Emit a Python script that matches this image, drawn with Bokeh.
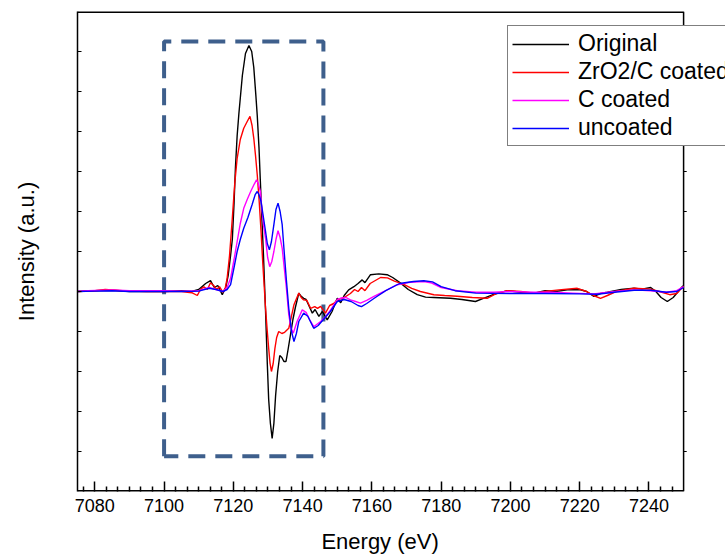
from bokeh.plotting import figure
from bokeh.models import Range1d, FixedTicker, Legend, LegendItem, CustomJSTickFormatter
from bokeh.embed import file_html
from bokeh.resources import INLINE

# ---- data ----
energy_original = [7075, 7080, 7085, 7090, 7095, 7100, 7105, 7108, 7110, 7112, 7113.4, 7114.5, 7115.5, 7116.8,
                   7117.8, 7118.5, 7119.2, 7119.7, 7120.2, 7120.6, 7121.1, 7121.6, 7122.6, 7123.5, 7124.5, 7125.3,
                   7125.9, 7126.5, 7126.9, 7127.4, 7127.8, 7128.3, 7128.7, 7129.3, 7129.8, 7130.2, 7130.7, 7131.2,
                   7131.7, 7132.2, 7132.8, 7133.4, 7134.0, 7134.6, 7135.2, 7135.8, 7136.5, 7137.2, 7137.9, 7138.9,
                   7139.6, 7140.3, 7141.0, 7141.8, 7142.8, 7143.6, 7144.7, 7145.7, 7147.1, 7148.5, 7150, 7151, 7152,
                   7153.3, 7154.8, 7156, 7157.2, 7158, 7159.6, 7162, 7164.4, 7166, 7168.3, 7170.5, 7173.1, 7175.5,
                   7177.9, 7182.7, 7186, 7189.9, 7192, 7195, 7199.1, 7203, 7206.8, 7210, 7213, 7216.4, 7220, 7222,
                   7224.1, 7226, 7228, 7232, 7235.7, 7238, 7240.5, 7242, 7243.5, 7245.3, 7247, 7249.6, 7250]
intensity_original = [0, 0.02, 0.03, 0.0, 0.0, 0.0, 0.02, 0.0, 0.05, 0.2, 0.27, 0.1, 0.15, -0.08,
                      0.1, 0.4, 0.9, 1.3, 2.2, 3.1, 3.9, 4.45, 5.4, 5.95, 6.15, 6.0,
                      5.6, 4.9, 4.4, 3.6, 2.75, 1.7, 0.9, -0.5, -1.8, -2.7, -3.3, -3.67,
                      -3.3, -2.6, -2.0, -1.6, -1.65, -1.75, -1.75, -1.45, -1.08, -0.7, -0.4, -0.04,
                      -0.12, -0.17, -0.2, -0.35, -0.54, -0.45, -0.62, -0.5, -0.71, -0.5, -0.17, -0.28, -0.1,
                      0.04, 0.12, 0.2, 0.29, 0.22, 0.42, 0.44, 0.42, 0.35, 0.21, 0.05, -0.08, -0.14,
                      -0.15, -0.17, -0.2, -0.25, -0.18, -0.08, 0.02, -0.02, -0.04, 0.02, 0.0, 0.04, 0.05, 0.0,
                      -0.12, -0.05, -0.02, 0.05, 0.08, 0.06, 0.1, 0.0, -0.15, -0.25, -0.15, 0.12, 0.15]

energy_zro2 = [7075, 7080, 7083, 7088, 7095, 7100, 7105, 7108, 7109.6, 7110.5, 7111.5, 7112.5, 7113.4, 7114.3,
               7115.2, 7116, 7117, 7117.7, 7118.2, 7118.9, 7119.7, 7120.4, 7121.1, 7122, 7123, 7124, 7124.8,
               7125.4, 7125.9, 7126.4, 7126.9, 7127.5, 7128, 7128.5, 7129, 7129.3, 7129.8, 7130.2, 7130.6, 7131,
               7131.5, 7132, 7132.5, 7133.1, 7134, 7134.8, 7136, 7136.7, 7137.5, 7138.9, 7139.6, 7140.3, 7141.2,
               7142.3, 7143.5, 7144.3, 7145.2, 7146.6, 7147.8, 7149, 7150, 7152, 7153.8, 7155, 7156, 7157, 7158,
               7159.5, 7160.5, 7162.5, 7164.5, 7166.5, 7169.2, 7171.5, 7174, 7177.9, 7181, 7184.6, 7189, 7193.3,
               7196, 7199.1, 7203, 7206.8, 7210, 7214, 7219.3, 7222, 7224, 7226, 7228, 7230.5, 7235.7, 7240.5,
               7243, 7246, 7248, 7249.6, 7250]
intensity_zro2 = [0, 0.02, 0.05, 0.02, 0.0, 0.0, 0.0, -0.03, -0.1, 0.05, 0.12, 0.05, 0.22, 0.15,
                  0.05, 0.12, -0.02, 0.1, 0.33, 0.9, 1.83, 2.7, 3.33, 3.8, 4.08, 4.25, 4.38,
                  4.15, 3.83, 3.4, 2.92, 2.2, 1.5, 0.7, 0.0, -0.42, -1.0, -1.42, -1.8, -2.0,
                  -1.8, -1.42, -1.15, -1.0, -1.05, -1.02, -0.92, -0.65, -0.33, -0.04, -0.15, -0.21, -0.22,
                  -0.42, -0.38, -0.42, -0.37, -0.54, -0.35, -0.3, -0.21, -0.15, -0.05, 0.05, 0.0, 0.1, 0.02,
                  0.2, 0.25, 0.35, 0.34, 0.26, 0.18, 0.08, 0.0, -0.08, -0.1, -0.12, -0.15, -0.17,
                  -0.05, 0.02, 0.0, -0.04, 0.0, 0.04, 0.08, 0.0, -0.1, -0.17, -0.1, 0.0, 0.08, 0.06,
                  0.0, -0.08, -0.05, 0.1, 0.12]

energy_c = [7075, 7078, 7085, 7090, 7095, 7100, 7105, 7110, 7113, 7115, 7117, 7118.2, 7119.2, 7120.2, 7121.1,
            7122, 7123, 7124, 7125, 7126, 7126.7, 7127.2, 7127.8, 7128.3, 7128.8, 7129.3, 7129.9, 7130.5,
            7131.1, 7131.7, 7132.3, 7132.9, 7133.5, 7134.1, 7134.6, 7135.3, 7136, 7136.6, 7137.3, 7138.4,
            7139.9, 7141, 7142, 7143.2, 7145.2, 7146.6, 7148.1, 7150, 7150.9, 7152.5, 7153.8, 7155.3, 7156.7,
            7158.5, 7160.6, 7163.5, 7167.3, 7171, 7175, 7177, 7180, 7184.6, 7190, 7195, 7200, 7206.8, 7212,
            7218, 7224.1, 7230, 7235.7, 7240.5, 7245, 7248, 7250]
intensity_c = [0.0, 0.02, 0.04, 0.02, 0.02, 0.02, 0.01, 0.02, 0.1, 0.05, 0.0, 0.1, 0.33, 0.8, 1.25,
               1.7, 2.08, 2.3, 2.5, 2.68, 2.79, 2.7, 2.5, 2.0, 1.6, 1.33, 0.85, 0.62,
               0.75, 1.0, 1.3, 1.52, 1.35, 1.08, 0.67, 0.1, -0.58, -0.9, -1.04, -0.75,
               -0.46, -0.52, -0.7, -0.88, -0.75, -0.63, -0.46, -0.2, -0.17, -0.15, -0.21, -0.25, -0.29,
               -0.22, -0.12, 0.0, 0.17, 0.23, 0.25, 0.22, 0.1, 0.02, -0.02, -0.02, 0.0, -0.02, -0.02,
               -0.04, -0.06, 0.0, 0.04, 0.02, -0.02, 0.02, 0.12]

energy_uncoated = [7075, 7080, 7085, 7090, 7100, 7105, 7110, 7113, 7115, 7117, 7118.2, 7119.2, 7120.2, 7121.1,
                   7122, 7123, 7124.2, 7125.4, 7126.3, 7126.9, 7127.4, 7128, 7128.6, 7129.3, 7129.8, 7130.4,
                   7131, 7131.7, 7132.3, 7132.9, 7133.5, 7134.1, 7134.6, 7135.3, 7136, 7136.8, 7137.5, 7138.2,
                   7138.9, 7140.3, 7141.5, 7143.2, 7144.5, 7146, 7148, 7150, 7152, 7154, 7156, 7157, 7158.5,
                   7161, 7164, 7168, 7172, 7175, 7177.5, 7180, 7184, 7190, 7200, 7210, 7220, 7225, 7230, 7235.7,
                   7240.5, 7245, 7248, 7250]
intensity_uncoated = [0, 0.01, 0.02, 0.0, 0.0, 0.0, 0.01, 0.08, 0.05, 0.0, 0.05, 0.17, 0.6, 1.0,
                      1.3, 1.58, 1.85, 2.17, 2.42, 2.5, 2.42, 2.25, 1.9, 1.5, 1.2, 1.04,
                      1.25, 1.67, 2.05, 2.21, 2.0, 1.67, 1.08, 0.3, -0.42, -1.0, -1.25, -1.05,
                      -0.75, -0.54, -0.62, -0.92, -0.85, -0.7, -0.5, -0.25, -0.2, -0.25, -0.35, -0.38, -0.3,
                      -0.15, 0.02, 0.2, 0.25, 0.27, 0.24, 0.12, 0.02, -0.04, -0.05, -0.05, -0.06, -0.07, -0.02, 0.03,
                      0.03, -0.02, 0.0, 0.1]

series_names = ["Original", "ZrO2/C coated", "C coated", "uncoated"]
series_colors = ["black", "red", "magenta", "blue"]

# dashed highlight box (edge region)
box_energy = [7100, 7100, 7146, 7146, 7100]
box_intensity = [-4.12, 6.25, 6.25, -4.12, -4.12]

# plot area limits (data units); the canvas runs a little past the right frame line
x_min, x_max = 7075, 7250
y_min, y_max = -5, 7
x_canvas_max = 7262.1  # lets the legend run past the right frame line, as in the reference

x_major_ticks = [7080, 7100, 7120, 7140, 7160, 7180, 7200, 7220, 7240]
x_minor_ticks = [7080 + k * 20 / 6 for k in range(-1, 51) if k % 6 != 0]
y_ticks = [-4, -3, -2, -1, 0, 1, 2, 3, 4, 5, 6]
right_tick_len = 0.9  # energy units

x_title = "Energy (eV)"
y_title = "Intensity (a.u.)"
# trailing no-break spaces shift the centred title left, under the visible frame x_min..x_max
x_title_pad = "\u00a0" * 7

FONT = "Liberation Sans"

p = figure(width=725, height=560, output_backend="svg", toolbar_location=None,
           x_range=Range1d(x_min, x_canvas_max), y_range=Range1d(y_min, y_max),
           min_border_left=77, min_border_right=0, min_border_top=11, min_border_bottom=69)
p.background_fill_color = "white"
p.border_fill_color = "white"
p.grid.visible = False
p.outline_line_color = None

blank = CustomJSTickFormatter(code="return ''")

# x axis
xa = p.xaxis[0]
xa.ticker = FixedTicker(ticks=x_major_ticks, minor_ticks=x_minor_ticks)
xa.major_tick_in = 10
xa.major_tick_out = 0
xa.minor_tick_in = 5
xa.minor_tick_out = 0
xa.major_tick_line_width = 1.5
xa.minor_tick_line_width = 1.5
xa.axis_line_color = None
xa.major_label_text_font = FONT
xa.major_label_text_font_size = "18px"
xa.major_label_text_color = "black"
xa.major_label_standoff = 7
xa.axis_label = x_title + x_title_pad
xa.axis_label_text_font = FONT
xa.axis_label_text_font_size = "22px"
xa.axis_label_text_font_style = "normal"
xa.axis_label_text_color = "black"
xa.axis_label_standoff = 14

# y axis
ya = p.yaxis[0]
ya.ticker = FixedTicker(ticks=y_ticks, minor_ticks=[])
ya.formatter = blank
ya.major_tick_in = 4
ya.major_tick_out = 0
ya.major_tick_line_width = 1.2
ya.axis_line_width = 1.5
ya.major_label_standoff = 0
ya.axis_label = y_title
ya.axis_label_text_font = FONT
ya.axis_label_text_font_size = "22px"
ya.axis_label_text_font_style = "normal"
ya.axis_label_text_color = "black"
ya.axis_label_standoff = 39

# frame lines: bottom, top, right
p.line([x_min, x_max], [y_min, y_min], line_color="black", line_width=3)
p.line([x_min, x_max], [y_max, y_max], line_color="black", line_width=3)
p.line([x_max, x_max], [y_min, y_max], line_color="black", line_width=1.5)
p.segment(x0=[x_max] * len(y_ticks), y0=y_ticks, x1=[x_max + right_tick_len] * len(y_ticks), y1=y_ticks,
          line_color="black", line_width=1.2)

# highlight box
p.line(box_energy, box_intensity, line_color="#3e5f8c", line_width=4, line_dash="17 10")

xs = [energy_original, energy_zro2, energy_c, energy_uncoated]
ys = [intensity_original, intensity_zro2, intensity_c, intensity_uncoated]
renderers = []
for x, y, c in zip(xs, ys, series_colors):
    renderers.append(p.line(x, y, line_color=c, line_width=1.4))

legend = Legend(items=[LegendItem(label=n, renderers=[r]) for n, r in zip(series_names, renderers)],
                location=(430, 345))
legend.label_text_font = FONT
legend.label_text_font_size = "23px"
legend.label_text_color = "black"
legend.glyph_width = 57
legend.glyph_height = 26
legend.label_height = 26
legend.spacing = 1
legend.padding = 4
legend.margin = 0
legend.label_standoff = 9
legend.border_line_color = "black"
legend.border_line_width = 1
legend.background_fill_alpha = 1
p.add_layout(legend)

open("out.html", "w").write(file_html(p, INLINE))
